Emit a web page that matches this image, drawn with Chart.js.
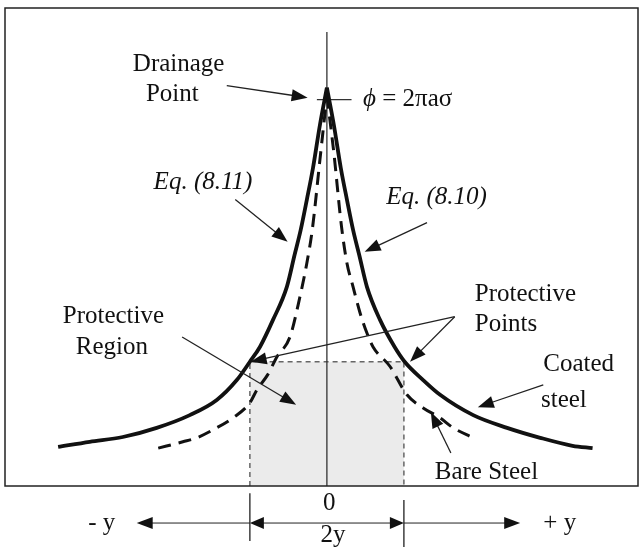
<!DOCTYPE html>
<html>
<head>
<meta charset="utf-8">
<script src="https://cdn.jsdelivr.net/npm/chart.js@4"></script>
<style>html,body{margin:0;background:#fff}</style>
</head>
<body>
<canvas id="c" width="640" height="550"></canvas>
<script>
// distance along the pipe in units of y (half width of the protective region)
const coatedX = [-3.49, -3.08, -2.65, -2.21, -1.78, -1.43, -1.17, -1.00, -0.87, -0.70, -0.52, -0.42, -0.34, -0.26, -0.18, -0.09, 0,
                 0.09, 0.18, 0.26, 0.34, 0.42, 0.52, 0.69, 0.88, 1.01, 1.25, 1.47, 1.90, 2.34, 2.77, 3.19, 3.45];
// potential, % of the drainage point value
const coatedPhi = [9.8, 11.1, 12.3, 14.6, 17.8, 21.6, 26.6, 31.2, 34.9, 41.7, 50.0, 58.0, 64.3, 71.9, 79.9, 90.7, 100,
                   90.7, 79.9, 71.9, 64.3, 58.0, 50.0, 41.7, 34.9, 31.2, 26.6, 22.9, 17.8, 14.6, 12.1, 10.1, 9.5];
const bareX = [-2.19, -1.87, -1.69, -1.48, -1.22, -1.00, -0.91, -0.77, -0.65, -0.48, -0.35, -0.26, -0.19, -0.09, 0,
               0.09, 0.19, 0.26, 0.34, 0.43, 0.52, 0.60, 0.82, 1.04, 1.25, 1.47, 1.64, 1.90];
const barePhi = [9.5, 11.1, 12.1, 14.1, 17.1, 20.9, 24.1, 27.9, 32.4, 37.4, 47.5, 56.0, 64.3, 82.0, 98.0,
                 83.7, 65.1, 56.0, 50.0, 43.5, 38.4, 34.9, 30.0, 22.9, 19.6, 17.1, 14.6, 12.1];
const regionX = [-1, 1];
const regionPhi = 31.2;
const peakPhi = 97;
const axisTop = 114;

function pts(xs, ys) { return xs.map((x, i) => ({x: x, y: ys[i]})); }
function side(xs, ys, left) {
    return pts(xs, ys).filter(p => left ? p.x <= 0 : p.x >= 0);
}

function curve(data, dash, order) {
    return {
        data: data, showLine: true, borderColor: '#111', borderWidth: dash ? 3 : 3.8,
        borderDash: dash ? [13, 8] : [], pointRadius: 0, cubicInterpolationMode: 'monotone',
        fill: false, order: order
    };
}

function arrow(ctx, x1, y1, x2, y2, len, w) {
    const ang = Math.atan2(y2 - y1, x2 - x1);
    ctx.beginPath();
    ctx.moveTo(x1, y1);
    ctx.lineTo(x2 - Math.cos(ang) * len * 0.8, y2 - Math.sin(ang) * len * 0.8);
    ctx.stroke();
    ctx.beginPath();
    ctx.moveTo(x2, y2);
    ctx.lineTo(x2 - Math.cos(ang) * len - Math.sin(ang) * w, y2 - Math.sin(ang) * len + Math.cos(ang) * w);
    ctx.lineTo(x2 - Math.cos(ang) * len + Math.sin(ang) * w, y2 - Math.sin(ang) * len - Math.cos(ang) * w);
    ctx.closePath();
    ctx.fill();
}

const notes = {
    id: 'notes',
    afterDraw(chart) {
        const ctx = chart.ctx, a = chart.chartArea;
        const sx = chart.scales.x, sy = chart.scales.y;
        const X = v => sx.getPixelForValue(v), Y = v => sy.getPixelForValue(v);
        ctx.save();
        ctx.strokeStyle = '#222';
        ctx.lineWidth = 1.5;
        ctx.strokeRect(a.left, a.top, a.width, a.height);

        // arrows
        ctx.strokeStyle = '#222';
        ctx.fillStyle = '#111';
        ctx.lineWidth = 1.3;
        const arrows = [
            [-1.30, 100.5, -0.25, 97.5],
            [-1.19, 71.9, -0.51, 61.3],
            [1.30, 66.1, 0.49, 58.8],
            [1.66, 42.5, -0.99, 31.2],
            [1.66, 42.5, 1.08, 31.2],
            [-1.88, 37.4, -0.40, 20.4],
            [2.81, 25.4, 1.96, 19.8],
            [1.61, 8.3, 1.35, 18.6]
        ];
        arrows.forEach(r => arrow(ctx, X(r[0]), Y(r[1]), X(r[2]), Y(r[3]), 16, 6));

        // text
        ctx.fillStyle = '#111';
        ctx.textBaseline = 'middle';
        ctx.textAlign = 'left';
        const reg = '25px "Liberation Serif"', ital = 'italic 25px "Liberation Serif"';
        const texts = [
            ['Drainage', -2.52, 105.8, reg], ['Point', -2.35, 98.2, reg],
            ['Eq. (8.11)', -2.25, 76.1, ital], ['Eq. (8.10)', 0.77, 72.4, ital],
            ['Protective', -3.43, 42.5, reg], ['Region', -3.26, 34.9, reg],
            ['Protective', 1.92, 48.0, reg], ['Points', 1.92, 40.5, reg],
            ['Coated', 2.81, 30.6, reg], ['steel', 2.78, 21.6, reg],
            ['Bare Steel', 1.40, 3.5, reg],
            ['- y', -3.10, -9.3, reg], ['+ y', 2.81, -9.3, reg]
        ];
        texts.forEach(t => { ctx.font = t[3]; ctx.fillText(t[0], X(t[1]), Y(t[2])); });
        ctx.font = ital;
        ctx.fillText('\u03D5', X(0.47), Y(97));
        const w = ctx.measureText('\u03D5').width;
        ctx.font = reg;
        ctx.fillText(' = 2\u03C0a\u03C3', X(0.47) + w, Y(97));
        ctx.textAlign = 'center';
        ctx.fillText('0', X(0.03), Y(-4.3));
        ctx.fillText('2y', X(0.08), Y(-12.3));

        // dimension lines under the box
        ctx.lineWidth = 1.3;
        ctx.beginPath();
        ctx.moveTo(X(regionX[0]), Y(-1.8)); ctx.lineTo(X(regionX[0]), Y(-13.8));
        ctx.moveTo(X(regionX[1]), Y(-3.5)); ctx.lineTo(X(regionX[1]), Y(-15.3));
        ctx.stroke();
        ctx.lineWidth = 1;
        arrow(ctx, X(regionX[0]), Y(-9.3), X(-2.47), Y(-9.3), 16, 6);
        arrow(ctx, X(regionX[1]), Y(-9.3), X(2.51), Y(-9.3), 16, 6);
        arrow(ctx, X(0), Y(-9.3), X(regionX[0]), Y(-9.3), 14, 6);
        arrow(ctx, X(0), Y(-9.3), X(regionX[1]), Y(-9.3), 14, 6);
        ctx.restore();
    }
};

new Chart(document.getElementById('c'), {
    type: 'scatter',
    data: {
        datasets: [
            curve(side(coatedX, coatedPhi, true), false, 1),
            curve(side(coatedX, coatedPhi, false), false, 1),
            curve(side(bareX, barePhi, true), true, 2),
            curve(side(bareX, barePhi, false), true, 2),
            {   // axis through the drainage point
                data: [{x: 0, y: 0}, {x: 0, y: axisTop}], showLine: true, borderColor: '#333',
                borderWidth: 1.3, pointRadius: 0, order: 3
            },
            {
                data: [{x: -0.13, y: peakPhi}, {x: 0.32, y: peakPhi}], showLine: true, borderColor: '#333',
                borderWidth: 1.3, pointRadius: 0, order: 3
            },
            {   // protective region outline
                data: [{x: regionX[0], y: 0}, {x: regionX[0], y: regionPhi}, {x: regionX[1], y: regionPhi}, {x: regionX[1], y: 0}],
                showLine: true, borderColor: '#666', borderWidth: 1.5, borderDash: [5, 4], pointRadius: 0, order: 4
            },
            {   // protective region fill
                data: [{x: regionX[0], y: regionPhi}, {x: regionX[1], y: regionPhi}],
                showLine: true, borderWidth: 0, borderColor: 'rgba(0,0,0,0)', backgroundColor: '#ebebeb',
                fill: 'origin', pointRadius: 0, order: 5
            }
        ]
    },
    options: {
        responsive: false,
        animation: false,
        layout: {padding: {left: 5, right: 2, top: 8, bottom: 64}},
        plugins: {legend: {display: false}, tooltip: {enabled: false}},
        scales: {
            x: {type: 'linear', min: -4.18, max: 4.04, display: false},
            y: {min: 0, max: 120, display: false}
        }
    },
    plugins: [notes]
});
</script>
</body>
</html>
